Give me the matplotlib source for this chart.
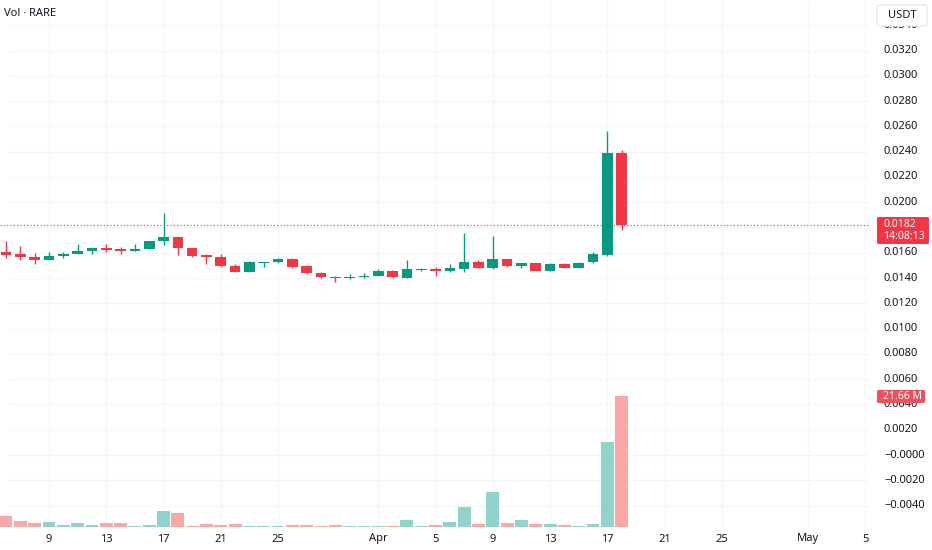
import matplotlib
matplotlib.use("Agg")
import matplotlib.pyplot as plt
import matplotlib.dates as mdates
import matplotlib.transforms as mtrans
from matplotlib.patches import FancyBboxPatch
from matplotlib.lines import Line2D
import pandas as pd

plt.rcParams['font.family'] = ['Noto Sans', 'DejaVu Sans']

# ---------------- data ----------------
dates = pd.date_range('2025-03-06', '2025-04-18', freq='D')
opens = [0.01607, 0.01587, 0.01568, 0.01544, 0.01573, 0.01594, 0.01615, 0.01636, 0.01626, 0.01615,
         0.01626, 0.01694, 0.01723, 0.01634, 0.01581, 0.01565, 0.01494, 0.01444, 0.01520, 0.01523,
         0.01549, 0.01494, 0.01436, 0.01407, 0.01397, 0.01405, 0.01415, 0.01455, 0.01403, 0.01465,
         0.01470, 0.01452, 0.01473, 0.01526, 0.01481, 0.01549, 0.01496, 0.01520, 0.01452, 0.01512,
         0.01481, 0.01523, 0.01581, 0.02393]
highs = [0.01694, 0.01655, 0.01599, 0.01605, 0.01607, 0.01668, 0.01644, 0.01666, 0.01642, 0.01666,
         0.01694, 0.01915, 0.01723, 0.01636, 0.01594, 0.01589, 0.01510, 0.01536, 0.01528, 0.01557,
         0.01555, 0.01502, 0.01444, 0.01417, 0.01433, 0.01436, 0.01468, 0.01462, 0.01541, 0.01481,
         0.01486, 0.01512, 0.01757, 0.01544, 0.01731, 0.01549, 0.01520, 0.01520, 0.01520, 0.01518,
         0.01526, 0.01607, 0.02564, 0.02411]
lows = [0.01555, 0.01541, 0.01515, 0.01541, 0.01560, 0.01591, 0.01594, 0.01607, 0.01591, 0.01613,
        0.01626, 0.01660, 0.01581, 0.01568, 0.01515, 0.01489, 0.01444, 0.01444, 0.01484, 0.01522,
        0.01476, 0.01435, 0.01402, 0.01370, 0.01394, 0.01402, 0.01413, 0.01402, 0.01401, 0.01457,
        0.01417, 0.01449, 0.01449, 0.01476, 0.01473, 0.01486, 0.01476, 0.01452, 0.01452, 0.01476,
        0.01481, 0.01520, 0.01575, 0.01779]
closes = [0.01583, 0.01563, 0.01544, 0.01575, 0.01594, 0.01615, 0.01636, 0.01621, 0.01613, 0.01626,
          0.01694, 0.01723, 0.01634, 0.01575, 0.01565, 0.01494, 0.01444, 0.01523, 0.01528, 0.01549,
          0.01489, 0.01436, 0.01405, 0.01397, 0.01409, 0.01417, 0.01455, 0.01405, 0.01468, 0.01473,
          0.01457, 0.01478, 0.01523, 0.01478, 0.01549, 0.01492, 0.01520, 0.01455, 0.01512, 0.01481,
          0.01520, 0.01587, 0.02393, 0.01820]
volumes_m = [1.93, 1.04, 0.71, 0.88, 0.44, 0.66, 0.38, 0.77, 0.66, 0.28,
             0.38, 2.70, 2.36, 0.28, 0.50, 0.38, 0.50, 0.28, 0.22, 0.22,
             0.38, 0.38, 0.27, 0.38, 0.20, 0.20, 0.20, 0.28, 1.26, 0.20,
             0.43, 0.83, 3.31, 0.60, 5.79, 0.71, 1.26, 0.60, 0.60, 0.38,
             0.20, 0.55, 13.98, 21.66]

grid_ticks = [-0.004, -0.002, 0.0, 0.002, 0.004, 0.006, 0.008, 0.010, 0.012, 0.014, 0.016,
              0.018, 0.020, 0.022, 0.024, 0.026, 0.028, 0.030, 0.032, 0.034]
# labels visible on the price scale (0.0180 sits under the last-price tag)
price_ticks = [-0.004, -0.002, 0.0, 0.002, 0.004, 0.006, 0.008, 0.010, 0.012, 0.014, 0.016,
               0.020, 0.022, 0.024, 0.026, 0.028, 0.030, 0.032, 0.034]
price_tick_labels = ['\u22120.0040', '\u22120.0020', '\u22120.0000', '0.0020', '0.0040', '0.0060',
                     '0.0080', '0.0100', '0.0120', '0.0140', '0.0160', '0.0200',
                     '0.0220', '0.0240', '0.0260', '0.0280', '0.0300', '0.0320', '0.0340']
date_tick_dates = ['2025-03-09', '2025-03-13', '2025-03-17', '2025-03-21', '2025-03-25',
                   '2025-04-01', '2025-04-05', '2025-04-09', '2025-04-13', '2025-04-17',
                   '2025-04-21', '2025-04-25', '2025-05-01', '2025-05-05']
date_tick_labels = ['9', '13', '17', '21', '25', 'Apr', '5', '9', '13', '17', '21', '25', 'May', '5']
month_labels = ['Apr', 'May']

last_price = 0.0182
last_price_label = '0.0182'
countdown_label = '14:08:13'
last_volume = 21.66
last_volume_label = '21.66 M'
title_label = 'Vol \u00b7 RARE'
currency_label = 'USDT'

# ---------------- style ----------------
GREEN = '#089981'
RED = '#f23645'
VGREEN = '#92d2cc'
VRED = '#f7a9a7'
TXT = '#131722'
GRID = '#f5f6f8'

W, H = 932, 550
fig = plt.figure(figsize=(W / 100, H / 100), dpi=100)
fig.patch.set_facecolor('white')

ax_left, ax_right, ax_top, ax_bot = 0, 870, 0, 528
ax = fig.add_axes([ax_left / W, 1 - ax_bot / H, (ax_right - ax_left) / W, (ax_bot - ax_top) / H])
ax.set_facecolor('white')
ax.set_xticks([])
ax.set_yticks([])
for s in ax.spines.values():
    s.set_visible(False)

x = mdates.date2num(dates)
x0 = x[0]
px_per_day = 14.316
x_off_px = 6.05
xlim = (x0 - x_off_px / px_per_day, x0 + (ax_right - x_off_px) / px_per_day)
ax.set_xlim(xlim)

# price scale: 0.0 at y=455 px, 25.28 px per 0.002
pp = 0.002 / 25.28
ylim = ((455 - ax_bot) * pp, 455 * pp)
ax.set_ylim(ylim)

# grid lines in pixel-space of the figure, through the axes data transform for y
date_nums = mdates.date2num(pd.to_datetime(date_tick_dates))
gblend = mtrans.blended_transform_factory(ax.transAxes, ax.transData)
for g in grid_ticks:
    ax.add_line(Line2D([0.01, 1.0], [g, g], transform=gblend, color=GRID, lw=0.9,
                       zorder=0, solid_capstyle='butt'))
ax.vlines(date_nums, ylim[0], ylim[1], colors=GRID, lw=0.9, zorder=0)

# candles
for xi, o, h, l, c in zip(x, opens, highs, lows, closes):
    col = GREEN if c >= o else RED
    ax.vlines(xi, l, h, color=col, lw=1.0, zorder=3)
    body = max(abs(c - o), pp * 1.2)
    ax.bar(xi, body, bottom=min(o, c), width=0.74, color=col, zorder=4, linewidth=0)

# last price dotted line
ax.axhline(last_price, color=RED, lw=0.8, ls=(0, (1, 2)), zorder=2)

# volume overlay
axv = fig.add_axes(ax.get_position(), sharex=ax, frameon=False)
vpx = 131.6 / last_volume
axv.set_ylim(-0.7 / vpx, (ax_bot - ax_top - 0.7) / vpx)
vcols = [VGREEN if c >= o else VRED for o, c in zip(opens, closes)]
axv.bar(x, volumes_m, width=0.9, color=vcols, linewidth=0, zorder=1)
axv.set_xlim(xlim)
axv.set_yticks([])
axv.tick_params(which='both', length=0, labelbottom=False, labelleft=False)
axv.patch.set_visible(False)

# right price axis labels
blend = mtrans.blended_transform_factory(fig.transFigure, ax.transData)
for v, lab in zip(price_ticks, price_tick_labels):
    fig.text(884 / W, v, lab, transform=blend, ha='left', va='center', fontsize=8,
             color=TXT, zorder=5)

# date labels
dblend = mtrans.blended_transform_factory(ax.transData, fig.transFigure)
for xd, lab in zip(date_nums, date_tick_labels):
    fig.text(xd, 1 - 539 / H, lab, ha='center', va='center', fontsize=8, color=TXT,
             fontweight='bold' if lab in month_labels else 'normal', transform=dblend)

def fig_box(x1, y1, x2, y2, fc, ec='none', lw=0, r=2):
    p = FancyBboxPatch((x1 / W, 1 - y2 / H), (x2 - x1) / W, (y2 - y1) / H,
                       boxstyle=f"round,pad=0,rounding_size={r / W}",
                       transform=fig.transFigure, facecolor=fc, edgecolor=ec, lw=lw, zorder=10)
    fig.add_artist(p)

# last price label
fig_box(877, 217, 929, 244, RED)
fig.text(883 / W, 1 - 224.5 / H, last_price_label, ha='left', va='center', fontsize=7.5,
         color='white', zorder=11)
fig.text(883 / W, 1 - 236.5 / H, countdown_label, ha='left', va='center', fontsize=7.5,
         color='white', zorder=11)

# last volume label
fig_box(877, 390, 925, 403, '#f0505c')
fig.text(883 / W, 1 - 396.5 / H, last_volume_label, ha='left', va='center', fontsize=7.5,
         color='white', zorder=11)

# currency box
fig_box(877, 5, 927, 26, 'white', ec='#e0e3eb', lw=0.8, r=3)
fig.text(902 / W, 1 - 15.5 / H, currency_label, ha='center', va='center', fontsize=8,
         color=TXT, zorder=11)

# title
fig.text(4 / W, 1 - 14 / H, title_label, ha='left', va='center', fontsize=8, color=TXT)

fig.savefig('out.png', dpi=100, facecolor='white')
